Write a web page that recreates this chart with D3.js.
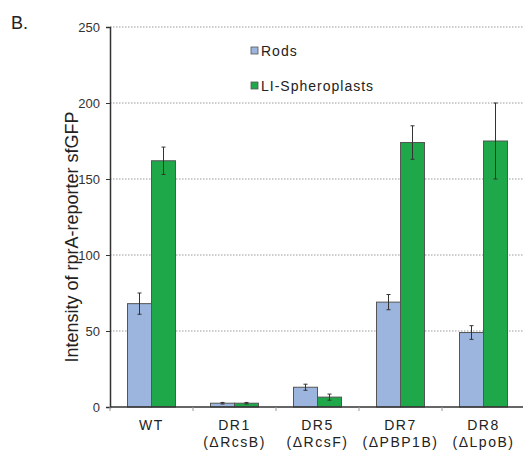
<!DOCTYPE html>
<html>
<head>
<meta charset="utf-8">
<script src="https://cdn.jsdelivr.net/npm/d3@7"></script>
<style>
  body { margin: 0; background: #fff; }
  text { font-family: "Liberation Sans", Arial, sans-serif; }
</style>
</head>
<body>
<div id="chart"></div>
<script>
// data
var strains = ["WT", "DR1", "DR5", "DR7", "DR8"];
var mutants = ["", "(\u0394RcsB)", "(\u0394RcsF)", "(\u0394PBP1B)", "(\u0394LpoB)"];
var seriesNames = ["Rods", "LI-Spheroplasts"];
var rods = [68, 2.5, 13, 69, 49];
var rodsErr = [7, 0.5, 2, 5, 4.5];
var sphero = [162, 2.5, 6.5, 174, 175];
var spheroErr = [9, 0.5, 2, 11, 25];
var yTicks = [0, 50, 100, 150, 200, 250];

var colors = ["#9bb5de", "#1fa84a"];

var svgWidth = 523;
var svgHeight = 450;

var svg = d3.select("#chart").append("svg")
    .attr("width", svgWidth)
    .attr("height", svgHeight);

var x = d3.scaleBand()
    .domain(strains)
    .range([110, 525]);

var y = d3.scaleLinear()
    .domain([0, 250])
    .range([407, 27]);

var barW = 24;

// gridlines
svg.append("g")
    .selectAll("line")
    .data(yTicks.slice(1))
    .enter()
    .append("line")
    .attr("x1", 110)
    .attr("x2", 523)
    .attr("y1", d => y(d))
    .attr("y2", d => y(d))
    .attr("stroke", "#9a9a9a")
    .attr("stroke-width", 1)
    .attr("stroke-dasharray", "1.5,1.5");

// y axis
var yAxis = svg.append("g")
    .attr("transform", "translate(110,0)")
    .call(d3.axisLeft(y).tickValues(yTicks).tickSize(4).tickPadding(6));
yAxis.select(".domain").attr("stroke", "#333").attr("stroke-width", 1.5);
yAxis.selectAll(".tick line").attr("stroke", "#333");
yAxis.selectAll("text")
    .attr("font-size", 13)
    .attr("fill", "#333")
    .style("font-family", "'Liberation Sans', Arial, sans-serif");

// bars
var groups = [
    { vals: rods, errs: rodsErr, off: -barW },
    { vals: sphero, errs: spheroErr, off: 0 }
];

groups.forEach(function(g, i) {
    svg.append("g")
        .selectAll("rect")
        .data(strains)
        .enter()
        .append("rect")
        .attr("x", (d, j) => x(d) + x.bandwidth() / 2 + g.off)
        .attr("y", (d, j) => y(g.vals[j]))
        .attr("width", barW)
        .attr("height", (d, j) => y(0) - y(g.vals[j]))
        .attr("fill", colors[i])
        .attr("stroke", "#555")
        .attr("stroke-width", 1);
});

// error bars
groups.forEach(function(g, i) {
    var eg = svg.append("g").attr("stroke", "#333").attr("stroke-width", 1);
    strains.forEach(function(d, j) {
        var cx = x(d) + x.bandwidth() / 2 + g.off + barW / 2;
        var top = y(g.vals[j] + g.errs[j]);
        var bot = y(g.vals[j] - g.errs[j]);
        eg.append("line").attr("x1", cx).attr("x2", cx).attr("y1", top).attr("y2", bot);
        eg.append("line").attr("x1", cx - 2).attr("x2", cx + 2).attr("y1", top).attr("y2", top);
        eg.append("line").attr("x1", cx - 2).attr("x2", cx + 2).attr("y1", bot).attr("y2", bot);
    });
});

// x axis
var xAxis = svg.append("g")
    .attr("transform", "translate(0," + y(0) + ")");
xAxis.append("line")
    .attr("x1", 110)
    .attr("x2", 523)
    .attr("stroke", "#333")
    .attr("stroke-width", 1.5);
xAxis.selectAll(".sep")
    .data(strains)
    .enter()
    .append("line")
    .attr("class", "sep")
    .attr("x1", d => x(d))
    .attr("x2", d => x(d))
    .attr("y1", 0)
    .attr("y2", 4)
    .attr("stroke", "#999");

var labels = xAxis.selectAll(".lab")
    .data(strains)
    .enter()
    .append("text")
    .attr("class", "lab")
    .attr("x", d => x(d) + x.bandwidth() / 2)
    .attr("text-anchor", "middle")
    .attr("font-size", 14)
    .attr("letter-spacing", 1.5)
    .attr("fill", "#222");
labels.append("tspan")
    .attr("x", d => x(d) + x.bandwidth() / 2)
    .attr("y", 23)
    .text(d => d);
labels.append("tspan")
    .attr("x", d => x(d) + x.bandwidth() / 2)
    .attr("y", 40)
    .text((d, j) => mutants[j]);

// y label
svg.append("text")
    .attr("transform", "translate(78,237) rotate(-90)")
    .attr("text-anchor", "middle")
    .attr("font-size", 18)
    .attr("fill", "#222")
    .text("Intensity of rprA-reporter sfGFP");

// panel letter
svg.append("text")
    .attr("x", 11)
    .attr("y", 29)
    .attr("font-size", 18)
    .attr("fill", "#222")
    .text("B.");

// legend
var legend = svg.append("g");
seriesNames.forEach(function(name, i) {
    var ly = 51 + i * 35;
    legend.append("rect")
        .attr("x", 251)
        .attr("y", ly - 4)
        .attr("width", 7)
        .attr("height", 7)
        .attr("fill", colors[i])
        .attr("stroke", "#555")
        .attr("stroke-width", 0.8);
    legend.append("text")
        .attr("x", 261)
        .attr("y", ly + 5)
        .attr("font-size", 14)
        .attr("letter-spacing", 1)
        .attr("fill", "#222")
        .text(name);
});
</script>
</body>
</html>
